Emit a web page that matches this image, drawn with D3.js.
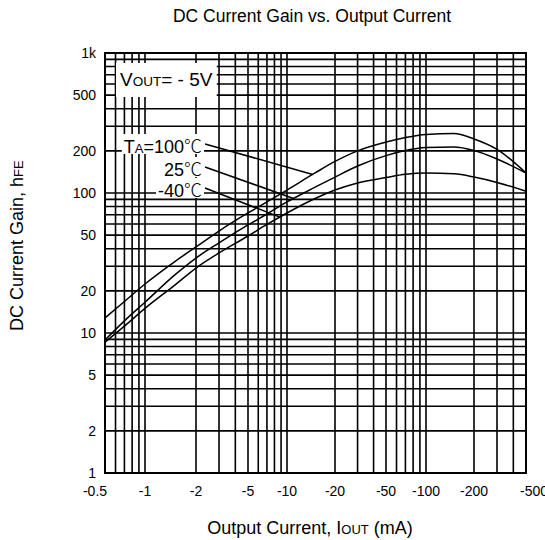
<!DOCTYPE html>
<html>
<head>
<meta charset="utf-8">
<script src="https://cdn.jsdelivr.net/npm/d3@7"></script>
<style>
  body { margin: 0; background: #fff; }
  text { font-family: "Liberation Sans", Arial, sans-serif; fill: #000; }
  .deg { font-family: "Noto Sans CJK JP", "DejaVu Sans", sans-serif; }
</style>
</head>
<body>
<svg id="chart" width="545" height="540"></svg>
<script>
// output current magnitude (mA) where gain was read
var currents = [0.5, 0.7, 1, 1.5, 2, 3, 5, 7, 10, 15, 20, 30, 50, 70, 100, 150, 200, 300, 500];
// hFE for each temperature
var gain100 = [12.8, 16.8, 22.4, 32.4, 41.2, 53.5, 72, 86.3, 105, 139, 168, 200, 231, 249, 262, 266, 243, 205, 139];
var gain25 = [8.9, 12.2, 16.6, 26.0, 34.3, 44.0, 59.1, 70.8, 86.3, 110, 130, 156, 185, 201, 211, 213, 201, 175, 139];
var gainM40 = [8.6, 11.2, 15.0, 22.0, 29.1, 37.3, 49.3, 59.6, 72, 91.4, 105, 118, 129, 136, 139, 137, 130, 119, 103];

var xTicks = [0.5, 1, 2, 5, 10, 20, 50, 100, 200, 500];
var yTicks = [1, 2, 5, 10, 20, 50, 100, 200, 500, 1000];

// where each label's leader line touches its curve (mA)
var leaderAt = [14.5, 11, 8.8];

var svg = d3.select("#chart");
var pLeft = 105, pRight = 526, pTop = 53, pBottom = 473;

// the printed grid is not quite logarithmic, so the x scale is pinned at each labelled tick
var xPix = [105, 145, 196, 248, 287, 335, 386, 426, 474, 526];
var x = d3.scaleLog().domain(xTicks).range(xPix);
var y = d3.scaleLog().domain([1, 1000]).range([pBottom, pTop]);

var grid = svg.append("g").attr("stroke", "#000").attr("stroke-width", 1.6);

grid.selectAll("line.v")
    .data(x.ticks())
    .enter().append("line")
    .attr("x1", function(d) { return x(d); })
    .attr("x2", function(d) { return x(d); })
    .attr("y1", pTop).attr("y2", pBottom);

grid.selectAll("line.h")
    .data(y.ticks())
    .enter().append("line")
    .attr("y1", function(d) { return y(d); })
    .attr("y2", function(d) { return y(d); })
    .attr("x1", pLeft).attr("x2", pRight);

svg.append("rect")
    .attr("x", pLeft).attr("y", pTop)
    .attr("width", pRight - pLeft).attr("height", pBottom - pTop)
    .attr("fill", "none").attr("stroke", "#000").attr("stroke-width", 2);

// tick labels
svg.selectAll("text.ytick")
    .data(yTicks)
    .enter().append("text")
    .attr("x", 96)
    .attr("y", function(d) { return y(d) + 5; })
    .attr("text-anchor", "end")
    .attr("font-size", 14)
    .text(function(d) { return d == 1000 ? "1k" : d; });

svg.selectAll("text.xtick")
    .data(xTicks)
    .enter().append("text")
    .attr("x", function(d, i) {
        if (i == 0) return x(d) - 10;
        if (i == xTicks.length - 1) return x(d) + 8;
        return x(d);
    })
    .attr("y", 496)
    .attr("text-anchor", "middle")
    .attr("font-size", 14)
    .text(function(d) { return "-" + d; });

// titles
svg.append("text")
    .attr("x", 312).attr("y", 22)
    .attr("text-anchor", "middle")
    .attr("font-size", 17.5)
    .text("DC Current Gain vs. Output Current");

var xt = svg.append("text")
    .attr("x", 310).attr("y", 534)
    .attr("text-anchor", "middle")
    .attr("font-size", 18);
xt.append("tspan").text("Output Current, I");
xt.append("tspan").attr("font-size", 13).text("OUT");
xt.append("tspan").text(" (mA)");

var yt = svg.append("text")
    .attr("transform", "translate(23,331) rotate(-90)")
    .attr("font-size", 18);
yt.append("tspan").text("DC Current Gain, h");
yt.append("tspan").attr("font-size", 13).text("FE");

// curves
var line = d3.line()
    .x(function(d) { return x(d[0]); })
    .y(function(d) { return y(d[1]); })
    .curve(d3.curveMonotoneX);

var series = [gain100, gain25, gainM40];
series.forEach(function(g) {
    svg.append("path")
        .datum(d3.zip(currents, g))
        .attr("d", line)
        .attr("fill", "none")
        .attr("stroke", "#000")
        .attr("stroke-width", 1.5);
});

function gainAt(g, c) {
    var i = d3.bisectRight(currents, c) - 1;
    var t = (Math.log(c) - Math.log(currents[i])) / (Math.log(currents[i + 1]) - Math.log(currents[i]));
    return Math.exp(Math.log(g[i]) + t * (Math.log(g[i + 1]) - Math.log(g[i])));
}

// label boxes
function boxed(textSel, padX, padTop, padBottom) {
    var b = textSel.node().getBBox();
    svg.insert("rect", function() { return textSel.node(); })
        .attr("x", b.x - padX).attr("y", b.y - padTop)
        .attr("width", b.width + padX * 2).attr("height", b.height + padTop + padBottom)
        .attr("fill", "#fff");
}

var vout = svg.append("text").attr("x", 120).attr("y", 86).attr("font-size", 19);
vout.append("tspan").text("V");
vout.append("tspan").attr("font-size", 13.5).text("OUT");
vout.append("tspan").text("= - 5V");
boxed(vout, 4, 6, 7);

var labels = [
    { big: "T", small: "A", rest: "=100", y: 153 },
    { big: "", small: "", rest: "25", y: 176 },
    { big: "", small: "", rest: "-40", y: 197 }
];

labels.forEach(function(l, i) {
    var t = svg.append("text")
        .attr("x", 202).attr("y", l.y)
        .attr("text-anchor", "end")
        .attr("font-size", 18);
    if (l.big) t.append("tspan").text(l.big);
    if (l.small) t.append("tspan").attr("font-size", 13).text(l.small);
    t.append("tspan").text(l.rest);
    t.append("tspan").attr("class", "deg").attr("font-weight", 300).text("\u2103");
    boxed(t, 2, -2, -4);

    var c = leaderAt[i];
    svg.append("line")
        .attr("x1", 205).attr("y1", l.y - 9)
        .attr("x2", x(c)).attr("y2", y(gainAt(series[i], c)))
        .attr("stroke", "#000").attr("stroke-width", 1.5);
});
</script>
</body>
</html>
